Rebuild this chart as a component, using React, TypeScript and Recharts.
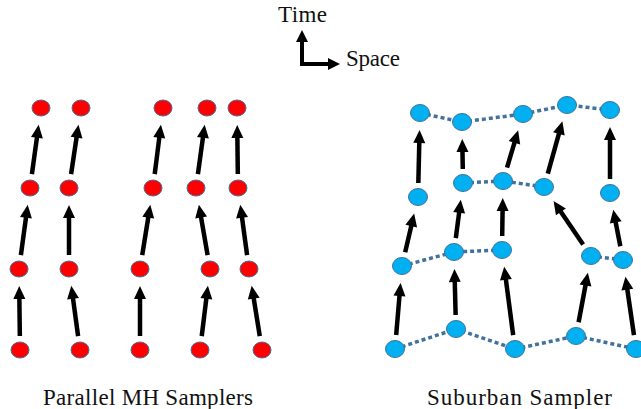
import { ScatterChart, Scatter, XAxis, YAxis, ReferenceLine } from "recharts";

const W = 641;
const H = 409;

// x = space, y = time (pixel-like units, time grows upward so y axis is reversed)
// Parallel MH samplers: rows from bottom (first step) to top
const redRow0 = [{ x: 20, y: 350 }, { x: 80, y: 350 }, { x: 140, y: 350 }, { x: 200, y: 350 }, { x: 262, y: 350 }];
const redRow1 = [{ x: 19, y: 269 }, { x: 69, y: 269 }, { x: 140, y: 269 }, { x: 210, y: 269 }, { x: 249, y: 269 }];
const redRow2 = [{ x: 30, y: 188 }, { x: 69, y: 188 }, { x: 153, y: 188 }, { x: 196, y: 188 }, { x: 238, y: 188 }];
const redRow3 = [{ x: 41, y: 108 }, { x: 81, y: 108 }, { x: 163, y: 108 }, { x: 207, y: 108 }, { x: 237, y: 108 }];

// Suburban sampler
const blueRow0 = [{ x: 395, y: 349 }, { x: 456, y: 329 }, { x: 515, y: 349 }, { x: 576, y: 336 }, { x: 636, y: 349 }];
const blueRow1 = [{ x: 402, y: 266 }, { x: 454, y: 252 }, { x: 502, y: 250 }, { x: 591, y: 256 }, { x: 623, y: 260 }];
const blueRow2 = [{ x: 418, y: 197 }, { x: 463, y: 183 }, { x: 503, y: 181 }, { x: 544, y: 187 }, { x: 610, y: 193 }];
const blueRow3 = [{ x: 420, y: 113 }, { x: 462, y: 122 }, { x: 523, y: 114 }, { x: 567, y: 105 }, { x: 610, y: 110 }];

// which neighbours are linked (dotted) inside each blue row
const blueLinks = [
  { row: 0, idx: [0, 1, 2, 3, 4] },
  { row: 1, idx: [0, 1, 2] },
  { row: 1, idx: [3, 4] },
  { row: 2, idx: [1, 2, 3] },
  { row: 3, idx: [0, 1, 2, 3, 4] },
];

// legend arrows (origin, time tip, space tip)
const axisOrigin = { x: 302, y: 64 };
const axisTime = { x: 302, y: 30 };
const axisSpace = { x: 340, y: 64 };

const redRows = [redRow0, redRow1, redRow2, redRow3];
const blueRows = [blueRow0, blueRow1, blueRow2, blueRow3];

function stepArrows(rows: { x: number; y: number }[][]) {
  const out: { x: number; y: number }[][] = [];
  for (let r = 0; r < rows.length - 1; r++) {
    rows[r].forEach((p, i) => out.push([p, rows[r + 1][i]]));
  }
  return out;
}

const redArrows = stepArrows(redRows);
const blueArrows = stepArrows(blueRows);
const redPoints = redRows.flat();
const bluePoints = blueRows.flat();

function arrowShape(gapStart: number, gapEnd: number, width: number, headLen: number, headHalf: number) {
  return (props: any) => {
    const { x1, y1, x2, y2 } = props;
    const dx = x2 - x1;
    const dy = y2 - y1;
    const len = Math.hypot(dx, dy) || 1;
    const ux = dx / len;
    const uy = dy / len;
    const sx = x1 + ux * gapStart;
    const sy = y1 + uy * gapStart;
    const tx = x2 - ux * gapEnd;
    const ty = y2 - uy * gapEnd;
    const bx = tx - ux * headLen;
    const by = ty - uy * headLen;
    const px = -uy;
    const py = ux;
    return (
      <g>
        <line x1={sx} y1={sy} x2={bx + ux} y2={by + uy} stroke="#000" strokeWidth={width} />
        <polygon
          points={`${tx},${ty} ${bx + px * headHalf},${by + py * headHalf} ${bx - px * headHalf},${by - py * headHalf}`}
          fill="#000"
        />
      </g>
    );
  };
}

const stepArrow = arrowShape(14, 17, 4.5, 13, 6);
const axisArrow = arrowShape(-2, 0, 4, 12, 6);

const redDot = (p: any) => (
  <ellipse cx={p.cx} cy={p.cy} rx={9} ry={8} fill="#ff0000" stroke="#41719c" strokeWidth={1} />
);
const blueDot = (p: any) => (
  <ellipse cx={p.cx} cy={p.cy} rx={9.5} ry={8.5} fill="#00b0f0" stroke="#41719c" strokeWidth={1} />
);
const noDot = () => <g />;

const FONT = "Liberation Serif";

export default function App() {
  return (
    <div style={{ position: "absolute", left: 0, top: 0, width: W, height: H, background: "#fff" }}>
      <ScatterChart width={W} height={H} margin={{ top: 0, right: 0, bottom: 0, left: 0 }}>
        <XAxis type="number" dataKey="x" domain={[0, W]} hide />
        <YAxis type="number" dataKey="y" domain={[0, H]} reversed hide />

        {blueLinks.map((l, k) => (
          <Scatter
            key={`link-${k}`}
            data={l.idx.map((i) => blueRows[l.row][i])}
            line={{ stroke: "#41719c", strokeWidth: 3.5, strokeDasharray: "4 3" }}
            shape={noDot}
            isAnimationActive={false}
          />
        ))}

        {redArrows.map((s, k) => (
          <ReferenceLine key={`ra-${k}`} segment={s} shape={stepArrow} ifOverflow="visible" />
        ))}
        {blueArrows.map((s, k) => (
          <ReferenceLine key={`ba-${k}`} segment={s} shape={stepArrow} ifOverflow="visible" />
        ))}
        <ReferenceLine segment={[axisOrigin, axisTime]} shape={axisArrow} ifOverflow="visible" />
        <ReferenceLine segment={[axisOrigin, axisSpace]} shape={axisArrow} ifOverflow="visible" />

        <Scatter data={redPoints} shape={redDot} isAnimationActive={false} />
        <Scatter data={bluePoints} shape={blueDot} isAnimationActive={false} />

        <text x={278} y={22} fontFamily={FONT} fontSize={23} fill="#111" textLength={49} lengthAdjust="spacing">Time</text>
        <text x={346} y={66} fontFamily={FONT} fontSize={23} fill="#111" textLength={54} lengthAdjust="spacing">Space</text>
        <text x={43} y={405} fontFamily={FONT} fontSize={23} fill="#111" textLength={210} lengthAdjust="spacing">
          Parallel MH Samplers
        </text>
        <text x={427} y={405} fontFamily={FONT} fontSize={23} fill="#111" textLength={185} lengthAdjust="spacing">
          Suburban Sampler
        </text>
      </ScatterChart>
    </div>
  );
}
